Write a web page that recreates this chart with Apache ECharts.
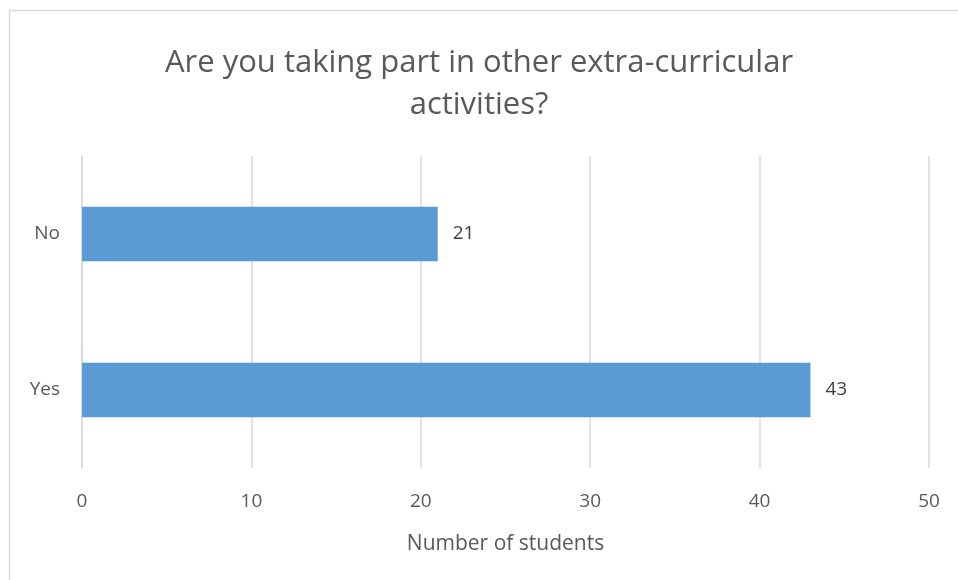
<!DOCTYPE html>
<html>
<head>
<meta charset="utf-8">
<script src="https://cdn.jsdelivr.net/npm/echarts@6/dist/echarts.min.js"></script>
<style>
  html, body { margin: 0; padding: 0; background: #fff; }
  #chart { width: 958px; height: 580px; }
</style>
</head>
<body>
<div id="chart"></div>
<script>
const titleText = 'Are you taking part in other extra-curricular\nactivities?';
const categories = ['Yes', 'No'];
const students = [43, 21];
const xTicks = { min: 0, max: 50, interval: 10 };
const xAxisName = 'Number of students';

const font = '"Open Sans", "Noto Sans", sans-serif';
const chart = echarts.init(document.getElementById('chart'), null, { renderer: 'canvas' });

chart.setOption({
  animation: false,
  backgroundColor: '#ffffff',
  graphic: [
    {
      type: 'polyline',
      silent: true,
      shape: { points: [[9.5, 580], [9.5, 10.5], [958, 10.5]] },
      style: { stroke: '#d9d9d9', lineWidth: 1.5, fill: null }
    }
  ],
  title: {
    text: titleText,
    left: 'center',
    top: 37,
    textStyle: {
      fontFamily: font,
      fontWeight: 'normal',
      fontSize: 31,
      lineHeight: 42,
      color: '#595959'
    }
  },
  grid: { left: 82, right: 29, top: 156, bottom: 112, containLabel: false },
  xAxis: {
    type: 'value',
    min: xTicks.min,
    max: xTicks.max,
    interval: xTicks.interval,
    name: xAxisName,
    nameLocation: 'middle',
    nameGap: 66,
    nameTextStyle: { fontFamily: font, fontSize: 21, color: '#595959' },
    axisLine: { show: false },
    axisTick: { show: false },
    axisLabel: { fontFamily: font, fontSize: 19, color: '#595959', margin: 24 },
    splitLine: { lineStyle: { color: '#d9d9d9', width: 1.5 } }
  },
  yAxis: {
    type: 'category',
    data: categories,
    axisLine: { show: true, lineStyle: { color: '#d9d9d9', width: 1.5 } },
    axisTick: { show: false },
    axisLabel: { fontFamily: font, fontSize: 19, color: '#595959', margin: 22 }
  },
  series: [
    {
      type: 'bar',
      data: students,
      barWidth: '35%',
      itemStyle: { color: '#5b9bd5' },
      label: {
        show: true,
        position: 'right',
        distance: 15,
        fontFamily: font,
        fontSize: 19,
        color: '#404040'
      }
    }
  ]
});
</script>
</body>
</html>
